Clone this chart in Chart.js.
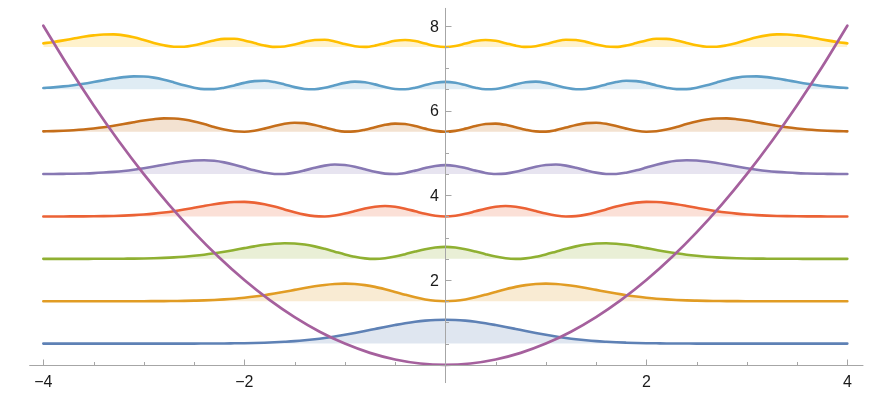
<!DOCTYPE html>
<html>
<head>
<meta charset="utf-8">
<title>Oscillator probability densities</title>
<script src="https://cdn.jsdelivr.net/npm/chart.js@4.4.1/dist/chart.umd.min.js"></script>
<style>
    html, body { margin: 0; padding: 0; background: #fff; }
    #chartWrap { width: 880px; height: 396px; }
</style>
</head>
<body>
<div id="chartWrap"><canvas id="densityChart" width="880" height="396"></canvas></div>
<script>
const xs = [
    -4, -3.9, -3.8, -3.7, -3.6, -3.5, -3.4, -3.3, -3.2, -3.1, -3, -2.9, -2.8, -2.7, -2.6, -2.5, -2.4, -2.3, -2.2, -2.1,
    -2, -1.9, -1.8, -1.7, -1.6, -1.5, -1.4, -1.3, -1.2, -1.1, -1, -0.9, -0.8, -0.7, -0.6, -0.5, -0.4, -0.3, -0.2, -0.1,
    0,
    0.1, 0.2, 0.3, 0.4, 0.5, 0.6, 0.7, 0.8, 0.9, 1, 1.1, 1.2, 1.3, 1.4, 1.5, 1.6, 1.7, 1.8, 1.9, 2,
    2.1, 2.2, 2.3, 2.4, 2.5, 2.6, 2.7, 2.8, 2.9, 3, 3.1, 3.2, 3.3, 3.4, 3.5, 3.6, 3.7, 3.8, 3.9, 4,
];

// baseline (energy level) of each curve
const levels = [0.5, 1.5, 2.5, 3.5, 4.5, 5.5, 6.5, 7.5];

// height of each curve above its baseline, read at xs
const density0 = [
    0, 0, 0, 0, 0, 0, 0, 0, 0, 0, 0, 0, 0, 0, 0.001, 0.001, 0.002, 0.003, 0.004, 0.007,
    0.010, 0.015, 0.022, 0.031, 0.044, 0.059, 0.079, 0.104, 0.134, 0.168, 0.208, 0.251, 0.297, 0.346, 0.394, 0.439, 0.481, 0.516, 0.542, 0.559,
    0.564,
    0.559, 0.542, 0.516, 0.481, 0.439, 0.394, 0.346, 0.297, 0.251, 0.208, 0.168, 0.134, 0.104, 0.079, 0.059, 0.044, 0.031, 0.022, 0.015, 0.010,
    0.007, 0.004, 0.003, 0.002, 0.001, 0.001, 0, 0, 0, 0, 0, 0, 0, 0, 0, 0, 0, 0, 0, 0,
];
const density1 = [
    0, 0, 0, 0, 0, 0, 0, 0, 0, 0.001, 0.001, 0.002, 0.003, 0.006, 0.009, 0.014, 0.020, 0.030, 0.043, 0.060,
    0.083, 0.110, 0.143, 0.181, 0.223, 0.268, 0.312, 0.352, 0.385, 0.407, 0.415, 0.407, 0.381, 0.339, 0.283, 0.220, 0.154, 0.093, 0.043, 0.011,
    0,
    0.011, 0.043, 0.093, 0.154, 0.220, 0.283, 0.339, 0.381, 0.407, 0.415, 0.407, 0.385, 0.352, 0.312, 0.268, 0.223, 0.181, 0.143, 0.110, 0.083,
    0.060, 0.043, 0.030, 0.020, 0.014, 0.009, 0.006, 0.003, 0.002, 0.001, 0.001, 0, 0, 0, 0, 0, 0, 0, 0, 0,
];
const density2 = [
    0, 0, 0, 0, 0, 0.001, 0.001, 0.002, 0.004, 0.006, 0.010, 0.016, 0.024, 0.035, 0.051, 0.072, 0.098, 0.131, 0.168, 0.210,
    0.253, 0.295, 0.332, 0.358, 0.370, 0.364, 0.339, 0.295, 0.236, 0.170, 0.104, 0.048, 0.012, 0, 0.015, 0.055, 0.111, 0.173, 0.229, 0.268,
    0.282,
    0.268, 0.229, 0.173, 0.111, 0.055, 0.015, 0, 0.012, 0.048, 0.104, 0.170, 0.236, 0.295, 0.339, 0.364, 0.370, 0.358, 0.332, 0.295, 0.253,
    0.210, 0.168, 0.131, 0.098, 0.072, 0.051, 0.035, 0.024, 0.016, 0.010, 0.006, 0.004, 0.002, 0.001, 0.001, 0, 0, 0, 0, 0,
];
const density3 = [
    0, 0.001, 0.001, 0.002, 0.003, 0.005, 0.008, 0.013, 0.021, 0.032, 0.047, 0.067, 0.093, 0.125, 0.163, 0.205, 0.248, 0.288, 0.321, 0.341,
    0.345, 0.327, 0.289, 0.233, 0.167, 0.100, 0.044, 0.008, 0.001, 0.023, 0.069, 0.129, 0.188, 0.230, 0.246, 0.229, 0.184, 0.123, 0.062, 0.017,
    0,
    0.017, 0.062, 0.123, 0.184, 0.229, 0.246, 0.230, 0.188, 0.129, 0.069, 0.023, 0.001, 0.008, 0.044, 0.100, 0.167, 0.233, 0.289, 0.327, 0.345,
    0.341, 0.321, 0.288, 0.248, 0.205, 0.163, 0.125, 0.093, 0.067, 0.047, 0.032, 0.021, 0.013, 0.008, 0.005, 0.003, 0.002, 0.001, 0.001, 0,
];
const density4 = [
    0.002, 0.003, 0.006, 0.009, 0.015, 0.023, 0.036, 0.053, 0.075, 0.104, 0.139, 0.179, 0.222, 0.263, 0.299, 0.322, 0.328, 0.314, 0.277, 0.222,
    0.155, 0.089, 0.034, 0.004, 0.004, 0.035, 0.088, 0.149, 0.200, 0.225, 0.216, 0.175, 0.115, 0.053, 0.011, 0.001, 0.028, 0.082, 0.144, 0.193,
    0.212,
    0.193, 0.144, 0.082, 0.028, 0.001, 0.011, 0.053, 0.115, 0.175, 0.216, 0.225, 0.200, 0.149, 0.088, 0.035, 0.004, 0.004, 0.034, 0.089, 0.155,
    0.222, 0.277, 0.314, 0.328, 0.322, 0.299, 0.263, 0.222, 0.179, 0.139, 0.104, 0.075, 0.053, 0.036, 0.023, 0.015, 0.009, 0.006, 0.003, 0.002,
];
const density5 = [
    0.009, 0.014, 0.023, 0.035, 0.052, 0.076, 0.105, 0.141, 0.181, 0.224, 0.264, 0.296, 0.314, 0.313, 0.289, 0.243, 0.180, 0.112, 0.051, 0.011,
    0.001, 0.024, 0.073, 0.133, 0.186, 0.212, 0.203, 0.160, 0.097, 0.038, 0.003, 0.007, 0.047, 0.107, 0.163, 0.192, 0.182, 0.135, 0.073, 0.020,
    0,
    0.020, 0.073, 0.135, 0.182, 0.192, 0.163, 0.107, 0.047, 0.007, 0.003, 0.038, 0.097, 0.160, 0.203, 0.212, 0.186, 0.133, 0.073, 0.024, 0.001,
    0.011, 0.051, 0.112, 0.180, 0.243, 0.289, 0.313, 0.314, 0.296, 0.264, 0.224, 0.181, 0.141, 0.105, 0.076, 0.052, 0.035, 0.023, 0.014, 0.009,
];
const density6 = [
    0.031, 0.047, 0.069, 0.098, 0.133, 0.173, 0.215, 0.255, 0.288, 0.305, 0.302, 0.276, 0.227, 0.163, 0.095, 0.037, 0.004, 0.004, 0.038, 0.093,
    0.152, 0.194, 0.202, 0.172, 0.115, 0.052, 0.009, 0.003, 0.037, 0.096, 0.153, 0.181, 0.167, 0.117, 0.055, 0.009, 0.003, 0.039, 0.100, 0.154,
    0.176,
    0.154, 0.100, 0.039, 0.003, 0.009, 0.055, 0.117, 0.167, 0.181, 0.153, 0.096, 0.037, 0.003, 0.009, 0.052, 0.115, 0.172, 0.202, 0.194, 0.152,
    0.093, 0.038, 0.004, 0.004, 0.037, 0.095, 0.163, 0.227, 0.276, 0.302, 0.305, 0.288, 0.255, 0.215, 0.173, 0.133, 0.098, 0.069, 0.047, 0.031,
];
const density7 = [
    0.085, 0.118, 0.156, 0.198, 0.240, 0.274, 0.295, 0.296, 0.273, 0.227, 0.164, 0.096, 0.038, 0.004, 0.005, 0.039, 0.096, 0.154, 0.191, 0.192,
    0.154, 0.093, 0.033, 0.002, 0.012, 0.059, 0.120, 0.165, 0.169, 0.131, 0.069, 0.016, 0.001, 0.031, 0.090, 0.145, 0.165, 0.139, 0.081, 0.023,
    0,
    0.023, 0.081, 0.139, 0.165, 0.145, 0.090, 0.031, 0.001, 0.016, 0.069, 0.131, 0.169, 0.165, 0.120, 0.059, 0.012, 0.002, 0.033, 0.093, 0.154,
    0.192, 0.191, 0.154, 0.096, 0.039, 0.005, 0.004, 0.038, 0.096, 0.164, 0.227, 0.273, 0.296, 0.295, 0.274, 0.240, 0.198, 0.156, 0.118, 0.085,
];

// potential curve
const potentialXs = [
    -4, -3.75, -3.5, -3.25, -3, -2.75, -2.5, -2.25, -2, -1.75, -1.5, -1.25, -1, -0.75, -0.5, -0.25,
    0, 0.25, 0.5, 0.75, 1, 1.25, 1.5, 1.75, 2, 2.25, 2.5, 2.75, 3, 3.25, 3.5, 3.75, 4,
];
const potential = [
    8, 7.031, 6.125, 5.281, 4.5, 3.781, 3.125, 2.531, 2, 1.531, 1.125, 0.781, 0.5, 0.281, 0.125, 0.031,
    0, 0.031, 0.125, 0.281, 0.5, 0.781, 1.125, 1.531, 2, 2.531, 3.125, 3.781, 4.5, 5.281, 6.125, 7.031, 8,
];

const xMajorTicks = [-4, -2, 2, 4];
const xMinorTicks = [-3.5, -3, -2.5, -1.5, -1, -0.5, 0.5, 1, 1.5, 2.5, 3, 3.5];
const yMajorTicks = [2, 4, 6, 8];
const yMinorTicks = [0.5, 1, 1.5, 2.5, 3, 3.5, 4.5, 5, 5.5, 6.5, 7, 7.5];

const lineColors = ['#5E81B5', '#E19C24', '#8FB032', '#EB6235', '#8778B3', '#C56E1A', '#5D9EC7', '#FFBF00'];
const potentialColor = '#A5609D';

const densities = [density0, density1, density2, density3, density4, density5, density6, density7];

function fade(hex, alpha) {
    const v = parseInt(hex.slice(1), 16);
    return `rgba(${(v >> 16) & 255}, ${(v >> 8) & 255}, ${v & 255}, ${alpha})`;
}

// Mathematica-style axes crossing at the origin
const originAxes = {
    id: 'originAxes',
    afterDatasetsDraw(chart) {
        const { ctx, scales } = chart;
        const sx = scales.x;
        const sy = scales.y;
        const ox = Math.round(sx.getPixelForValue(0)) + 0.5;
        const oy = Math.round(sy.getPixelForValue(0)) + 0.5;

        ctx.save();
        ctx.strokeStyle = '#a6a6a6';
        ctx.lineWidth = 1;
        ctx.beginPath();
        ctx.moveTo(sx.getPixelForValue(-4.14), oy);
        ctx.lineTo(sx.getPixelForValue(4.16), oy);
        ctx.moveTo(ox, sy.getPixelForValue(-0.43));
        ctx.lineTo(ox, sy.getPixelForValue(8.42));

        xMajorTicks.forEach((v) => {
            const px = Math.round(sx.getPixelForValue(v)) + 0.5;
            ctx.moveTo(px, oy);
            ctx.lineTo(px, oy - 6);
        });
        xMinorTicks.forEach((v) => {
            const px = Math.round(sx.getPixelForValue(v)) + 0.5;
            ctx.moveTo(px, oy);
            ctx.lineTo(px, oy - 3.5);
        });
        yMajorTicks.forEach((v) => {
            const py = Math.round(sy.getPixelForValue(v)) + 0.5;
            ctx.moveTo(ox, py);
            ctx.lineTo(ox + 6, py);
        });
        yMinorTicks.forEach((v) => {
            const py = Math.round(sy.getPixelForValue(v)) + 0.5;
            ctx.moveTo(ox, py);
            ctx.lineTo(ox + 3.5, py);
        });
        ctx.stroke();

        ctx.fillStyle = '#1a1a1a';
        ctx.font = '16px "Liberation Sans", Arial, sans-serif';
        ctx.textBaseline = 'alphabetic';
        ctx.textAlign = 'center';
        xMajorTicks.forEach((v) => {
            const label = v < 0 ? '\u2212' + Math.abs(v) : String(v);
            ctx.fillText(label, sx.getPixelForValue(v), oy + 21);
        });
        ctx.textAlign = 'right';
        yMajorTicks.forEach((v) => {
            ctx.fillText(String(v), ox - 6.5, sy.getPixelForValue(v) + 5.8);
        });
        ctx.restore();
    },
};

const datasets = densities.map((vals, n) => ({
    label: 'n = ' + n,
    data: xs.map((x, i) => ({ x, y: levels[n] + vals[i] })),
    borderColor: lineColors[n],
    backgroundColor: fade(lineColors[n], 0.2),
    fill: { value: levels[n] },
    borderWidth: 2.6,
    cubicInterpolationMode: 'monotone',
    order: 8 - n,
}));

datasets.push({
    label: 'V(x)',
    data: potentialXs.map((x, i) => ({ x, y: potential[i] })),
    borderColor: potentialColor,
    backgroundColor: potentialColor,
    fill: false,
    borderWidth: 2.7,
    cubicInterpolationMode: 'monotone',
    order: 0,
});

new Chart(document.getElementById('densityChart'), {
    type: 'line',
    data: { datasets },
    options: {
        responsive: false,
        animation: false,
        layout: { padding: 0 },
        elements: {
            point: { radius: 0, hoverRadius: 0 },
            line: { borderCapStyle: 'round', borderJoinStyle: 'round' },
        },
        scales: {
            x: { type: 'linear', min: -4.431, max: 4.325, display: false },
            y: { type: 'linear', min: -0.736, max: 8.608, display: false },
        },
        plugins: {
            legend: { display: false },
            tooltip: { enabled: false },
        },
    },
    plugins: [originAxes],
});
</script>
</body>
</html>
